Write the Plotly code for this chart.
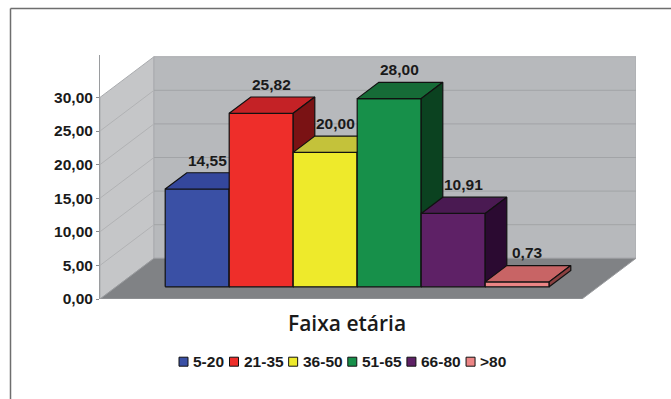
import plotly.graph_objects as go

# ---------------- data ----------------
categories = ["5-20", "21-35", "36-50", "51-65", "66-80", ">80"]
values = [14.55, 25.82, 20.00, 28.00, 10.91, 0.73]
value_labels = ["14,55", "25,82", "20,00", "28,00", "10,91", "0,73"]
tick_values = [0, 5, 10, 15, 20, 25, 30]
tick_labels = ["0,00", "5,00", "10,00", "15,00", "20,00", "25,00", "30,00"]
axis_title = "Faixa etária"

# ---------------- styles ----------------
front_colors = ["#3a50a5", "#ee2e2a", "#eeea2b", "#17904a", "#5e2166", "#ec8585"]
top_colors = ["#34479c", "#c42226", "#c4c23a", "#166b37", "#4a1a52", "#c86465"]
side_colors = ["#1c2a66", "#7a1214", "#7a7816", "#0b4220", "#2b0a31", "#8a4040"]

W, H = 671, 399
L, R, T, B = 100, 35, 55, 100
PW, PH = W - L - R, H - T - B
PX_PER_X = 64.0
PX_PER_Y = 6.72
X_MAX = PW / PX_PER_X
Y_MAX = PH / PX_PER_Y
DX = 54 / PX_PER_X          # depth offset in x units
DY = 40.7 / PX_PER_Y        # depth offset in y units
FLOOR_W = X_MAX - DX
GAP = (FLOOR_W - len(values)) / 2
WALL_TOP = 30
FRONT, DEPTH = 0.3, 0.4

FS = 15.5
FONT_B = dict(family="Liberation Sans", size=FS, color="#1a1a1a", weight="bold")


def px2paper(px, py):
    return (px - L) / PW, (H - B - py) / PH


fig = go.Figure()


def poly(pts, fill, line_color=None, width=0):
    xs = [p[0] for p in pts] + [pts[0][0]]
    ys = [p[1] for p in pts] + [pts[0][1]]
    fig.add_trace(go.Scatter(
        x=xs, y=ys, mode="lines", fill="toself", fillcolor=fill,
        line=dict(color=line_color or fill, width=width),
        hoverinfo="skip", showlegend=False, cliponaxis=False))


def seg(pts, color, width=1):
    fig.add_trace(go.Scatter(
        x=[p[0] for p in pts], y=[p[1] for p in pts], mode="lines",
        line=dict(color=color, width=width), hoverinfo="skip",
        showlegend=False, cliponaxis=False))


# walls and floor
poly([(0, 0), (0, WALL_TOP), (DX, WALL_TOP + DY), (DX, DY)], "#c5c6c8", "#a9abae", 1)
poly([(DX, DY), (DX, WALL_TOP + DY), (DX + FLOOR_W, WALL_TOP + DY), (DX + FLOOR_W, DY)],
     "#b7b9bc", "#a9abae", 1)
poly([(0, 0), (FLOOR_W, 0), (FLOOR_W + DX, DY), (DX, DY)], "#808285", "#9a9c9f", 1)

# gridlines
for v in tick_values[1:-1]:
    seg([(0, v), (DX, v + DY)], "#b1b2b4", 1)
    seg([(DX, v + DY), (DX + FLOOR_W, v + DY)], "#a2a4a7", 1)

# 3D bars
ddx, ddy = DEPTH * DX, DEPTH * DY
for i, v in enumerate(values):
    x0 = GAP + i + FRONT * DX
    y0 = FRONT * DY
    x1, y1 = x0 + 1, y0 + v
    poly([(x0, y0), (x1, y0), (x1, y1), (x0, y1)], front_colors[i], "#111111", 1.2)
    poly([(x0, y1), (x1, y1), (x1 + ddx, y1 + ddy), (x0 + ddx, y1 + ddy)],
         top_colors[i], "#111111", 1.2)
    poly([(x1, y0), (x1 + ddx, y0 + ddy), (x1 + ddx, y1 + ddy), (x1, y1)],
         side_colors[i], "#111111", 1.2)
    fig.add_annotation(x=x0 + 0.5, y=y1, xref="x", yref="y", text=value_labels[i],
                       showarrow=False, xshift=10, yshift=29, font=FONT_B,
                       xanchor="center", yanchor="middle")

# axis title
tx, ty = px2paper(347, 323)
fig.add_annotation(x=tx, y=ty, xref="paper", yref="paper", text=axis_title,
                   showarrow=False, xanchor="center", yanchor="middle",
                   font=dict(family="Open Sans", size=21, color="#1a1a1a", weight=600))

# legend (manual, compact like the reference)
char_w = {"-": 0.333 * FS, ">": 0.584 * FS}
lx = 179.0
ly = 361.7
for i, cat in enumerate(categories):
    sx, sy = px2paper(lx + 4.5, ly)
    fig.add_shape(type="rect", xref="paper", yref="paper", xsizemode="pixel",
                  ysizemode="pixel", xanchor=sx, yanchor=sy, x0=-4.5, x1=4.5,
                  y0=-4.5, y1=4.5, fillcolor=front_colors[i],
                  line=dict(color="#111111", width=1))
    tx, ty = px2paper(lx + 12, ly)
    fig.add_annotation(x=tx, y=ty, xref="paper", yref="paper", text=cat,
                       showarrow=False, xanchor="left", yanchor="middle",
                       font=FONT_B)
    tw = sum(char_w.get(c, 0.556 * FS) for c in cat)
    lx += 13 + tw + 6.5

# outer frame (left and top lines)
fx0, fy0 = px2paper(10.5, 8.5)
fx1, fy1 = px2paper(671, 399)
fig.add_shape(type="line", xref="paper", yref="paper", x0=fx0, y0=fy0, x1=fx0, y1=fy1,
              line=dict(color="#6e6e6e", width=1.5))
fig.add_shape(type="line", xref="paper", yref="paper", x0=fx0, y0=fy0, x1=fx1, y1=fy0,
              line=dict(color="#6e6e6e", width=1.5))

fig.update_xaxes(range=[0, X_MAX], visible=False, fixedrange=True)
fig.update_yaxes(range=[0, Y_MAX], tickvals=tick_values, ticktext=tick_labels,
                 showgrid=False, zeroline=False, showline=True, linecolor="#9a9c9f",
                 linewidth=1, ticks="outside", ticklen=3, tickcolor="#8a8c8f",
                 tickfont=FONT_B, fixedrange=True)
fig.update_layout(width=W, height=H, margin=dict(l=L, r=R, t=T, b=B),
                  paper_bgcolor="white", plot_bgcolor="white", showlegend=False)

fig.write_html("out.html")
